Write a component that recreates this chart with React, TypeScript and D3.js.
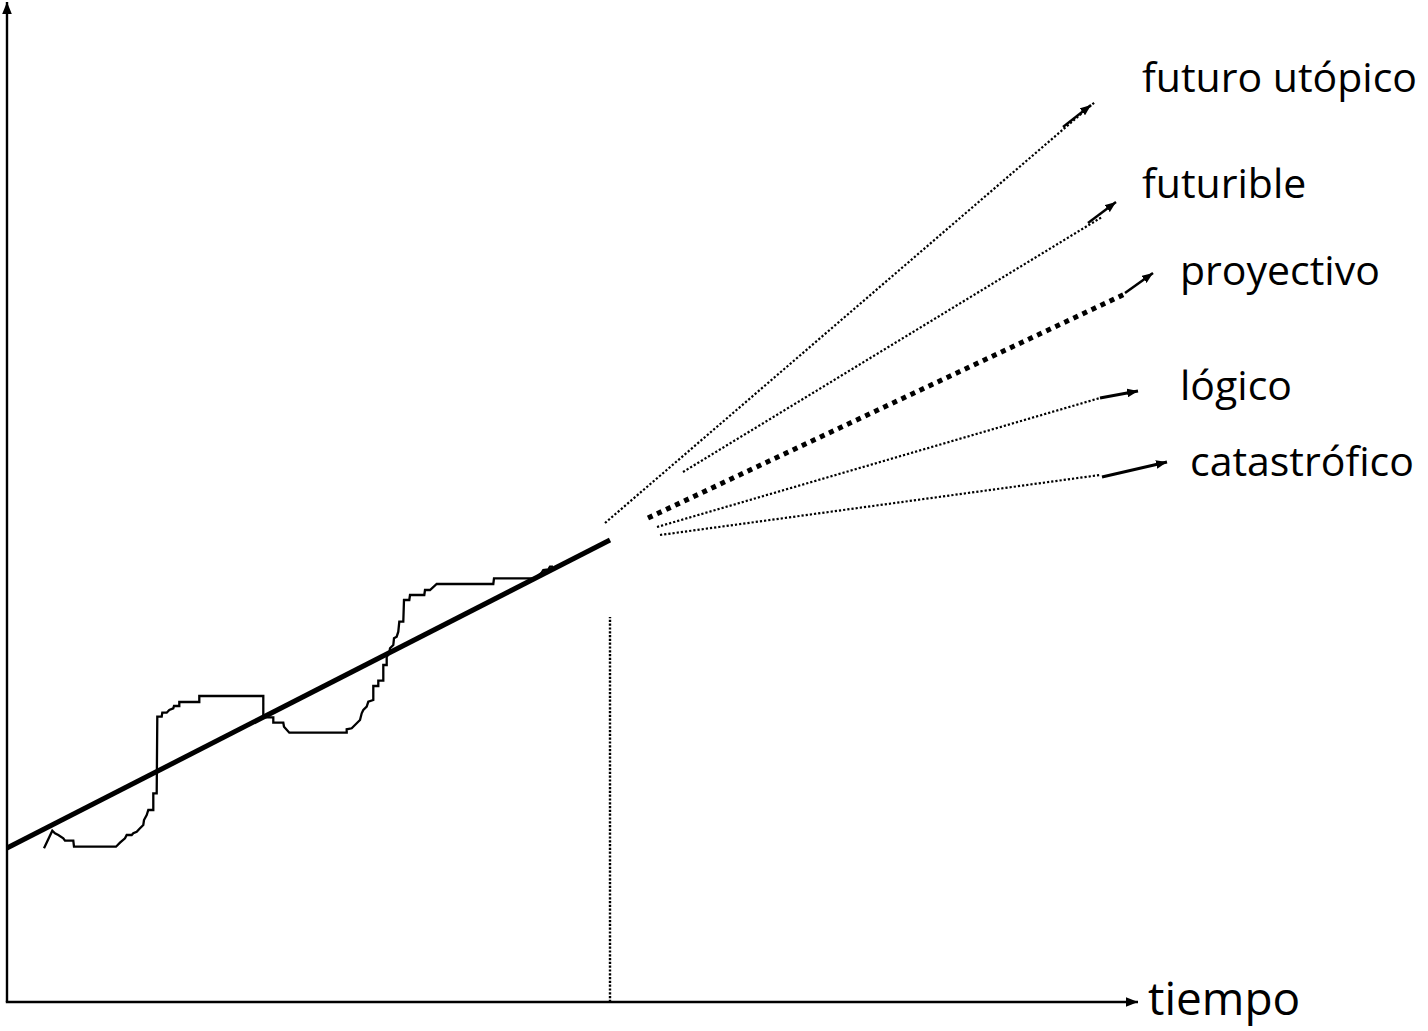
import React from "react";
import * as d3 from "d3";

// ---- data (chart units: x = time, y = value) ----
const trendX = [0, 603];
const trendY = [154, 462];

const historyX = [37, 45.3, 48, 51.3, 56.3, 58, 66.3, 67, 109, 113, 118, 119.7, 124.7, 126.3, 129.7, 133, 136.3, 137, 139.7, 141.3, 146.3, 146.3, 149.7, 150.3, 154.7, 155.3, 159.7, 162.3, 166.3, 167, 172.3, 172.3, 192.3, 192.3, 256.3, 256.3, 266.3, 266.3, 276.3, 277, 282.3, 339.7, 339.7, 344.7, 353, 354.7, 356.3, 359.7, 361.3, 366.3, 366.3, 371.3, 371.3, 376.3, 376.3, 379.7, 379.7, 382.3, 383, 386.3, 387, 389.7, 391.3, 392.3, 396.3, 397, 402.3, 403, 417.3, 418, 423, 429.7, 486.3, 487, 528, 534.7, 536.3, 541.3, 543, 546];
const historyY = [153.7, 171.3, 168.7, 167, 163.7, 161.3, 161.3, 155.3, 155.3, 159.3, 163.7, 167, 167, 168.7, 170.3, 173.7, 177, 182, 187, 192, 192, 208.7, 208.7, 285.3, 285.3, 289.3, 289.3, 292, 293.7, 296, 296, 300, 300, 306, 306, 284.7, 284.7, 279.3, 279.3, 275.3, 269.3, 269.3, 272.7, 273.7, 282, 288.7, 292, 295.3, 300.3, 302, 316, 316, 321.3, 321.3, 337, 337, 345.3, 348.7, 353.7, 357, 363.7, 365.3, 370.3, 380.3, 380.3, 402, 402, 407, 407, 412, 412, 418, 418, 423.7, 423.7, 429.3, 432, 432.7, 435.3, 435.3];

const presentX = 603;
const presentYTop = 385;

const scenarioNames = ["futuro utópico", "futurible", "proyectivo", "lógico", "catastrófico"];
const scenarioStartX = [598, 676, 641, 650, 653];
const scenarioStartY = [479, 530, 484, 475, 467];
const scenarioEndX = [1088, 1095, 1120, 1093, 1093];
const scenarioEndY = [900, 785, 709, 604, 527];
const arrowFromX = [1056, 1081, 1118, 1093, 1095];
const arrowFromY = [875, 779, 709, 604, 525];
const arrowToX = [1084, 1109, 1146, 1131, 1160];
const arrowToY = [897, 800, 729, 611, 540];
const labelX = [1135, 1135, 1173, 1173, 1183];
const labelY = [910, 804, 717, 602, 526];

const axisLabel = "tiempo";

// ---- layout ----
const W = 1428;
const H = 1031;
const x = d3.scaleLinear().domain([0, 1130]).range([7, 1137]);
const y = d3.scaleLinear().domain([0, 1000]).range([1002, 2]);

const FONT = "'Open Sans', 'Noto Sans', sans-serif";

export default function App() {
  const line = d3
    .line<[number, number]>()
    .x((d) => x(d[0]))
    .y((d) => y(d[1]))
    .curve(d3.curveLinear);

  const history: [number, number][] = historyX.map((v, i) => [v, historyY[i]]);
  const trend: [number, number][] = trendX.map((v, i) => [v, trendY[i]]);

  const dotStyles = [
    { w: 2.2, dash: "2.2,2", aw: 2.4 },
    { w: 2.2, dash: "2.2,2", aw: 2.4 },
    { w: 5, dash: "5,5", aw: 2.6 },
    { w: 2.2, dash: "2.2,2", aw: 3 },
    { w: 2.2, dash: "2.2,2", aw: 3 },
  ];

  return (
    <svg
      width={W}
      height={H}
      viewBox={`0 0 ${W} ${H}`}
      style={{ position: "absolute", left: 0, top: 0, background: "#fff" }}
    >
      <defs>
        <marker
          id="arr"
          viewBox="0 0 10 8"
          refX={10}
          refY={4}
          markerWidth={11}
          markerHeight={9}
          markerUnits="userSpaceOnUse"
          orient="auto"
        >
          <path d="M0,0 L10,4 L0,8 Z" fill="#000" />
        </marker>
        <marker
          id="axarr"
          viewBox="0 0 10 8"
          refX={10}
          refY={4}
          markerWidth={12}
          markerHeight={10}
          markerUnits="userSpaceOnUse"
          orient="auto"
        >
          <path d="M0,0 L10,4 L0,8 Z" fill="#000" />
        </marker>
      </defs>

      {/* axes */}
      <line
        x1={x(0)}
        y1={y(0)}
        x2={x(0)}
        y2={y(1000)}
        stroke="#000"
        strokeWidth={2.4}
        markerEnd="url(#axarr)"
      />
      <line
        x1={x(0) - 1.2}
        y1={y(0)}
        x2={x(1131)}
        y2={y(0)}
        stroke="#000"
        strokeWidth={2.5}
        markerEnd="url(#axarr)"
      />
      <text x={x(1141)} y={y(-13)} fontFamily={FONT} fontSize={46} fill="#000">
        {axisLabel}
      </text>

      {/* present marker */}
      <line
        x1={x(presentX)}
        y1={y(0)}
        x2={x(presentX)}
        y2={y(presentYTop)}
        stroke="#000"
        strokeWidth={2.4}
        strokeDasharray="2.2,1.6"
      />

      {/* historical trajectory */}
      <path d={line(history) || ""} fill="none" stroke="#000" strokeWidth={2.3} strokeLinejoin="miter" />

      {/* trend */}
      <path d={line(trend) || ""} fill="none" stroke="#000" strokeWidth={5} />

      {/* scenarios */}
      {scenarioNames.map((name, i) => (
        <g key={name}>
          <line
            x1={x(scenarioStartX[i])}
            y1={y(scenarioStartY[i])}
            x2={x(scenarioEndX[i])}
            y2={y(scenarioEndY[i])}
            stroke="#000"
            strokeWidth={dotStyles[i].w}
            strokeDasharray={dotStyles[i].dash}
          />
          <line
            x1={x(arrowFromX[i])}
            y1={y(arrowFromY[i])}
            x2={x(arrowToX[i])}
            y2={y(arrowToY[i])}
            stroke="#000"
            strokeWidth={dotStyles[i].aw}
            markerEnd="url(#arr)"
          />
          <text x={x(labelX[i])} y={y(labelY[i])} fontFamily={FONT} fontSize={41} fill="#000">
            {name}
          </text>
        </g>
      ))}
    </svg>
  );
}
